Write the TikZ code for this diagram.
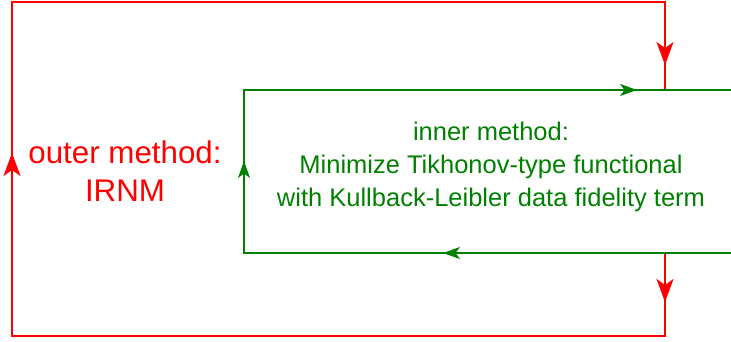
\documentclass[tikz,border=0pt]{standalone}
\usepackage{fontspec}
\setmainfont{Liberation Sans}
\usetikzlibrary{arrows.meta}
\definecolor{loopred}{RGB}{255,0,0}
\definecolor{loopgreen}{RGB}{0,128,0}
\tikzset{
  outerline/.style={draw=loopred, line width=1.8pt},
  innerline/.style={draw=loopgreen, line width=1.6pt},
  outertip/.style={outerline, -{Stealth[length=23pt, width=17pt, inset=6pt]}},
  innertip/.style={innerline, -{Stealth[length=17pt, width=12pt, inset=4.5pt]}},
  outerlabel/.style={text=loopred, font=\fontsize{31.3}{38}\selectfont, align=center},
  innerlabel/.style={text=loopgreen, font=\fontsize{25.5}{33}\selectfont, align=center},
}
\begin{document}
\begin{tikzpicture}[x=1pt, y=-1pt]
  \useasboundingbox (0,0) rectangle (731,342);
  % corners of the outer (red) loop
  \coordinate (ojoinT) at (665,90);
  \coordinate (oTR) at (665,2);
  \coordinate (oTL) at (12,2);
  \coordinate (oBL) at (12,336);
  \coordinate (oBR) at (665,336);
  \coordinate (ojoinB) at (665,253);
  % inner (green) loop
  \coordinate (iTL) at (244,90);
  \coordinate (iBL) at (244,253);
  \coordinate (iTR) at (731,90);
  \coordinate (iBR) at (731,253);
  % arrow positions
  \coordinate (aTopBack) at (665,42);
  \coordinate (aTopTip) at (665,65);
  \coordinate (aLeftBack) at (12,177);
  \coordinate (aLeftTip) at (12,153);
  \coordinate (aBotBack) at (665,278);
  \coordinate (aBotTip) at (665,302);
  \coordinate (gLeftBack) at (244,179);
  \coordinate (gLeftTip) at (244,161);
  \coordinate (gTopBack) at (619,90);
  \coordinate (gTopTip) at (637,90);
  \coordinate (gBotBack) at (461,253);
  \coordinate (gBotTip) at (443,253);

  % outer loop
  \draw[outerline, line join=miter] (ojoinT) -- (oTR) -- (oTL) -- (oBL) -- (oBR) -- (ojoinB);
  % inner loop
  \draw[innerline] (iTR) -- (iTL) -- (iBL) -- (iBR);

  % arrowheads
  \draw[outertip] (aTopBack) -- (aTopTip);
  \draw[outertip] (aLeftBack) -- (aLeftTip);
  \draw[outertip] (aBotBack) -- (aBotTip);
  \draw[innertip] (gLeftBack) -- (gLeftTip);
  \draw[innertip] (gTopBack) -- (gTopTip);
  \draw[innertip] (gBotBack) -- (gBotTip);

  % labels
  \node[outerlabel] (outer) at (125,171) {outer method:\\IRNM};
  \node[innerlabel] (inner) at (491,167) {inner method:\\Minimize Tikhonov-type functional\\with Kullback-Leibler data fidelity term};
\end{tikzpicture}
\end{document}
